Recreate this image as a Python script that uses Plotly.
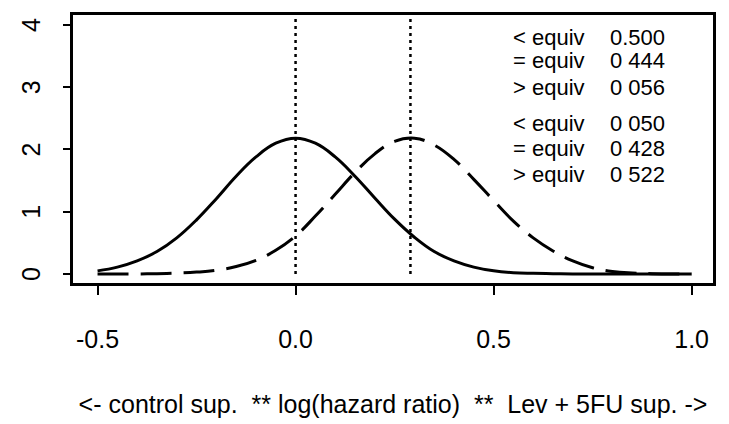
import plotly.graph_objects as go

# ---- data ----
x_grid = [-0.50, -0.45, -0.40, -0.35, -0.30, -0.25, -0.20, -0.15, -0.10, -0.05,
          0.00, 0.05, 0.10, 0.15, 0.20, 0.25, 0.30, 0.35, 0.40, 0.45,
          0.50, 0.55, 0.60, 0.65, 0.70, 0.75, 0.80, 0.85, 0.90, 0.95, 1.00]
control_density = [0.05, 0.11, 0.21, 0.36, 0.58, 0.87, 1.21, 1.57, 1.88, 2.10,
                   2.18, 2.10, 1.88, 1.57, 1.22, 0.88, 0.59, 0.36, 0.21, 0.11,
                   0.05, 0.02, 0.01, 0.005, 0.0, 0.0, 0.0, 0.0, 0.0, 0.0, 0.0]
treat_density = [0.0, 0.0, 0.0, 0.005, 0.014, 0.03, 0.06, 0.12, 0.22, 0.38,
                 0.61, 0.93, 1.28, 1.63, 1.93, 2.13, 2.18, 2.07, 1.84, 1.52,
                 1.18, 0.85, 0.58, 0.37, 0.21, 0.10, 0.04, 0.015, 0.005, 0.0, 0.0]
vlines = [0.0, 0.29]
x_ticks = [-0.5, 0.0, 0.5, 1.0]
x_tick_labels = ["-0.5", "0.0", "0.5", "1.0"]
y_ticks = [0, 1, 2, 3, 4]
y_tick_labels = ["0", "1", "2", "3", "4"]
stat_labels = ["< equiv", "= equiv", "> equiv", "< equiv", "= equiv", "> equiv"]
stat_values = ["0.500", "0 444", "0 056", "0 050", "0 428", "0 522"]
stat_y = [3.80, 3.43, 3.00, 2.41, 2.01, 1.59]
x_title = "<- control sup.  ** log(hazard ratio)  **  Lev + 5FU sup. ->"

XR = [-0.562, 1.054]
YR = [-0.145, 4.16]
FONT = "Liberation Sans, Arial, sans-serif"

fig = go.Figure()
fig.add_trace(go.Scatter(x=x_grid, y=control_density, mode="lines",
                         line=dict(color="black", width=3, shape="spline", smoothing=1.2),
                         showlegend=False, hoverinfo="skip"))
fig.add_trace(go.Scatter(x=x_grid, y=treat_density, mode="lines",
                         line=dict(color="black", width=3, dash="31px,12px",
                                   shape="spline", smoothing=1.2),
                         showlegend=False, hoverinfo="skip"))

for v in vlines:
    fig.add_shape(type="line", x0=v, x1=v, y0=0, y1=YR[1], xref="x", yref="y",
                  line=dict(color="black", width=2.5, dash="3px,4px"))

for lab, val, yy in zip(stat_labels, stat_values, stat_y):
    fig.add_annotation(x=0.545, y=yy, xref="x", yref="y", text=lab, showarrow=False,
                       xanchor="left", yanchor="middle",
                       font=dict(family=FONT, size=22, color="black"))
    fig.add_annotation(x=0.788, y=yy, xref="x", yref="y", text=val, showarrow=False,
                       xanchor="left", yanchor="middle",
                       font=dict(family=FONT, size=22, color="black"))

# rotated y tick labels (R style, reading bottom-to-top)
for tv, tl in zip(y_ticks, y_tick_labels):
    fig.add_annotation(x=0, y=tv, xref="paper", yref="y", text=tl, showarrow=False,
                       xanchor="center", yanchor="middle", textangle=-90, xshift=-42,
                       font=dict(family=FONT, size=25, color="black"))

fig.update_layout(
    width=729, height=424,
    margin=dict(l=73, r=16, t=15, b=141),
    paper_bgcolor="white", plot_bgcolor="white",
    font=dict(family=FONT, color="black"),
    xaxis=dict(range=XR, tickvals=x_ticks, ticktext=x_tick_labels, automargin=False,
               showgrid=False, zeroline=False, showline=True, linecolor="black",
               linewidth=2.5, mirror=True, ticks="outside", ticklen=9, tickwidth=2,
               tickcolor="black", tickfont=dict(family=FONT, size=25, color="black"),
               ticklabelstandoff=23,
               title=dict(text=x_title, font=dict(family=FONT, size=25, color="black"),
                          standoff=44)),
    yaxis=dict(range=YR, tickvals=y_ticks, showticklabels=False, automargin=False,
               showgrid=False, zeroline=False, showline=True, linecolor="black",
               linewidth=2.5, mirror=True, ticks="outside", ticklen=7, tickwidth=2,
               tickcolor="black"),
)

fig.write_html("out.html", config={"displayModeBar": False},
               post_script="document.body.style.margin='0';document.body.style.padding='0';")
